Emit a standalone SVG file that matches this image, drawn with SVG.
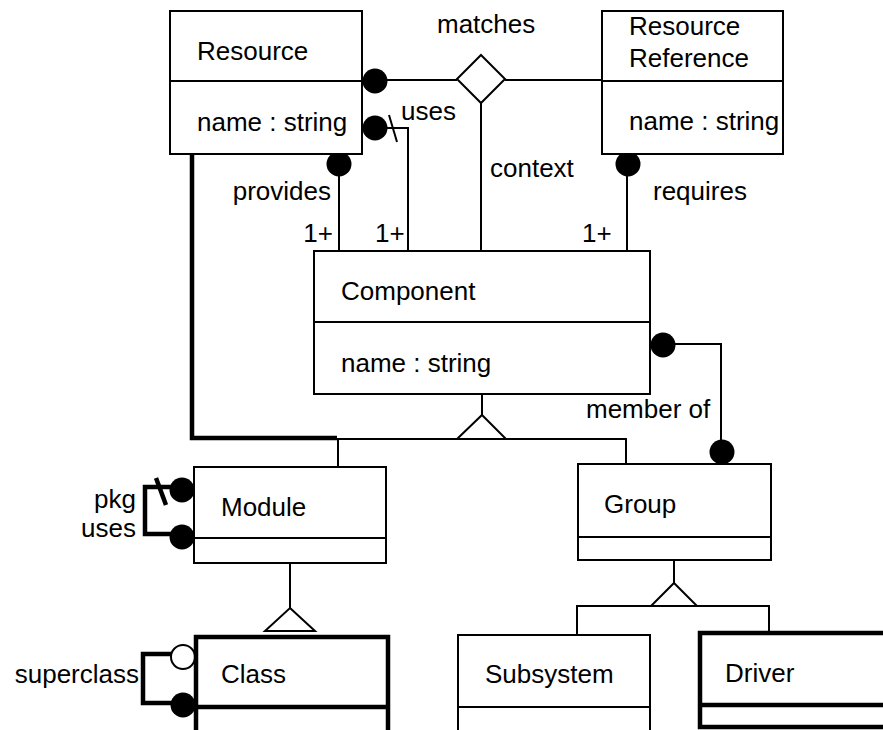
<svg xmlns="http://www.w3.org/2000/svg" width="883" height="730" viewBox="0 0 883 730">
  <style>
    text { font-family: "Liberation Sans", Arial, sans-serif; font-size: 26px; fill: #000; }
    .end { text-anchor: end; }
    .box { fill: #fff; stroke: #000; stroke-width: 2; }
    .heavy { fill: #fff; stroke: #000; stroke-width: 4.5; }
    .line { fill: none; stroke: #000; stroke-width: 2; }
    .thick { fill: none; stroke: #000; stroke-width: 4.5; }
    .dot { fill: #000; stroke: none; }
    .ring { fill: #fff; stroke: #000; stroke-width: 2; }
    .tri { fill: #fff; stroke: #000; stroke-width: 2; }
  </style>
  <rect width="883" height="730" fill="#fff"/>

  <!-- connectors -->
  <g id="connectors">
    <!-- matches (ternary association) -->
    <line class="line" x1="362" y1="80" x2="457" y2="80"/>
    <line class="line" x1="505" y1="80" x2="602" y2="80"/>
    <line class="line" x1="481" y1="103" x2="481" y2="251"/>
    <polygon class="ring" points="481,55 505,79 481,103 457,79"/>
    <circle class="dot" cx="375" cy="81" r="12.5"/>
    <text x="437" y="33">matches</text>
    <text x="490" y="177">context</text>

    <!-- uses -->
    <polyline class="line" points="375,128 408,128 408,251"/>
    <line class="line" x1="389" y1="115" x2="397" y2="142"/>
    <circle class="dot" cx="375" cy="128" r="12.5"/>
    <text x="401" y="120">uses</text>
    <text x="375" y="242">1+</text>

    <!-- provides -->
    <line class="line" x1="339" y1="164" x2="339" y2="251"/>
    <circle class="dot" cx="339" cy="164" r="12.5"/>
    <text class="end" x="331" y="200">provides</text>
    <text class="end" x="333" y="242">1+</text>

    <!-- requires -->
    <line class="line" x1="627" y1="164" x2="627" y2="251"/>
    <circle class="dot" cx="628" cy="164" r="12.5"/>
    <text x="653" y="200">requires</text>
    <text x="582" y="242">1+</text>

    <!-- member of -->
    <polyline class="line" points="663,344 721,344 721,452"/>
    <circle class="dot" cx="663" cy="345" r="12.5"/>
    <circle class="dot" cx="722" cy="452" r="12.5"/>
    <text x="586" y="418">member of</text>

    <!-- Component generalization -->
    <line class="line" x1="482" y1="394" x2="482" y2="415"/>
    <polyline class="line" points="338,467 338,439 626,439 626,464"/>
    <polygon class="tri" points="482,415 506,439 457,439"/>
    <polyline class="thick" points="192,154 192,438 337,438"/>

    <!-- pkg uses -->
    <polyline class="thick" points="182,487 145,487 145,534 182,534"/>
    <line class="thick" x1="156" y1="478" x2="166" y2="505"/>
    <circle class="dot" cx="182" cy="490" r="12.5"/>
    <circle class="dot" cx="182" cy="537" r="12.5"/>
    <text class="end" x="136" y="508">pkg</text>
    <text class="end" x="136" y="537">uses</text>

    <!-- Module generalization -->
    <line class="line" x1="290" y1="563" x2="290" y2="608"/>
    <polygon class="tri" points="290,608 315,631 265,631"/>

    <!-- superclass -->
    <polyline class="thick" points="183,654 143,654 143,703 183,703"/>
    <circle class="ring" cx="183" cy="657" r="12"/>
    <circle class="dot" cx="183" cy="705" r="12.5"/>
    <text class="end" x="139" y="683">superclass</text>

    <!-- Group generalization -->
    <line class="line" x1="674" y1="560" x2="674" y2="583"/>
    <polyline class="line" points="577,635 577,606 769,606 769,633"/>
    <polygon class="tri" points="674,583 697,606 651,606"/>
  </g>

  <!-- classes -->
  <g id="resource">
    <rect class="box" x="170" y="11" width="192" height="143"/>
    <line class="line" x1="170" y1="81" x2="362" y2="81"/>
    <text x="197" y="60">Resource</text>
    <text x="197" y="131">name : string</text>
  </g>

  <g id="resource-reference">
    <rect class="box" x="602" y="11" width="181" height="143"/>
    <line class="line" x1="602" y1="81" x2="783" y2="81"/>
    <text x="629" y="35">Resource</text>
    <text x="629" y="67">Reference</text>
    <text x="629" y="130">name : string</text>
  </g>

  <g id="component">
    <rect class="box" x="314" y="251" width="336" height="143"/>
    <line class="line" x1="314" y1="322" x2="650" y2="322"/>
    <text x="341" y="300">Component</text>
    <text x="341" y="372">name : string</text>
  </g>

  <g id="module">
    <rect class="box" x="194" y="467" width="192" height="96"/>
    <line class="line" x1="194" y1="538" x2="386" y2="538"/>
    <text x="221" y="516">Module</text>
  </g>

  <g id="group">
    <rect class="box" x="578" y="464" width="193" height="96"/>
    <line class="line" x1="578" y1="537" x2="771" y2="537"/>
    <text x="604" y="513">Group</text>
  </g>

  <g id="class">
    <rect class="heavy" x="196" y="637" width="192" height="96"/>
    <line class="thick" x1="196" y1="707" x2="388" y2="707"/>
    <text x="221" y="683">Class</text>
  </g>

  <g id="subsystem">
    <rect class="box" x="458" y="635" width="192" height="96"/>
    <line class="line" x1="458" y1="707" x2="650" y2="707"/>
    <text x="485" y="683">Subsystem</text>
  </g>

  <g id="driver">
    <rect class="heavy" x="700" y="633" width="192" height="94"/>
    <line class="thick" x1="700" y1="705" x2="892" y2="705"/>
    <text x="725" y="682">Driver</text>
  </g>
</svg>
